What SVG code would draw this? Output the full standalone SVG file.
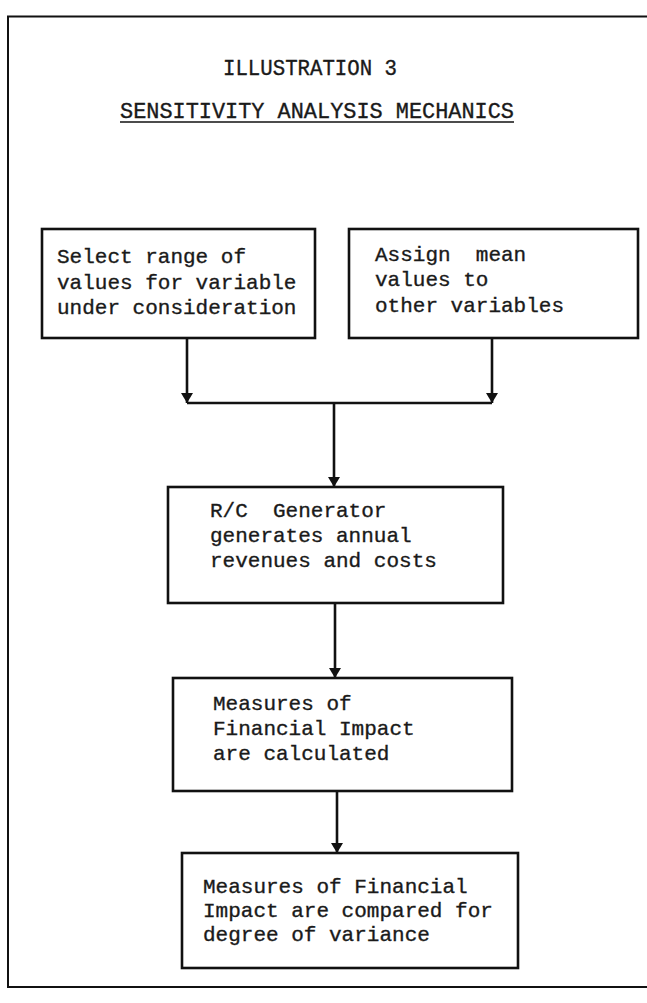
<svg xmlns="http://www.w3.org/2000/svg" width="647" height="1003" viewBox="0 0 647 1003">
<style>
  .frame{fill:none;stroke:#111;stroke-width:2}
  .box{fill:#fff;stroke:#111;stroke-width:2.6}
  .t{font-family:"Liberation Mono","Courier New",monospace;font-size:21px;fill:#1a1a1a;stroke:#1a1a1a;stroke-width:0.35;white-space:pre}
  .title{font-family:"Liberation Mono","Courier New",monospace;font-size:21.5px;fill:#1a1a1a;stroke:#1a1a1a;stroke-width:0.35}
  .con{fill:none;stroke:#111;stroke-width:2.6}
</style>
<defs>
  <marker id="ah" viewBox="0 0 10 12" refX="10" refY="6" markerWidth="10" markerHeight="12" markerUnits="userSpaceOnUse" orient="auto">
    <path d="M0,0 L10,6 L0,12 Z" fill="#111"/>
  </marker>
</defs>
<rect width="647" height="1003" fill="#fff"/>
<g id="frame">
  <path class="frame" d="M647,16.5 L8,16.5 L8,987 L647,987"/>
</g>
<g id="title">
  <text class="title" x="223" y="75" textLength="174" lengthAdjust="spacingAndGlyphs">ILLUSTRATION 3</text>
  <text class="title" x="120" y="118" textLength="394" lengthAdjust="spacingAndGlyphs">SENSITIVITY ANALYSIS MECHANICS</text>
  <line x1="120" y1="122" x2="514" y2="122" stroke="#111" stroke-width="1.6"/>
</g>
<g id="connectors">
  <path class="con" d="M187,338 L187,403" marker-end="url(#ah)"/>
  <path class="con" d="M492,338 L492,403" marker-end="url(#ah)"/>
  <path class="con" d="M187,403 L492,403"/>
  <path class="con" d="M334,403 L334,487" marker-end="url(#ah)"/>
  <path class="con" d="M335,603 L335,678" marker-end="url(#ah)"/>
  <path class="con" d="M337,791 L337,853" marker-end="url(#ah)"/>
</g>
<g id="node-select">
  <rect class="box" x="42" y="229" width="273" height="109"/>
  <text class="t" x="57" y="263">Select range of</text>
  <text class="t" x="57" y="289">values for variable</text>
  <text class="t" x="57" y="314">under consideration</text>
</g>
<g id="node-assign">
  <rect class="box" x="349" y="229" width="289" height="109"/>
  <text class="t" x="375" y="261">Assign  mean</text>
  <text class="t" x="375" y="286">values to</text>
  <text class="t" x="375" y="312">other variables</text>
</g>
<g id="node-rc">
  <rect class="box" x="168" y="487" width="335" height="116"/>
  <text class="t" x="210" y="517">R/C  Generator</text>
  <text class="t" x="210" y="542">generates annual</text>
  <text class="t" x="210" y="567">revenues and costs</text>
</g>
<g id="node-measures">
  <rect class="box" x="173" y="678" width="339" height="113"/>
  <text class="t" x="213" y="710">Measures of</text>
  <text class="t" x="213" y="735">Financial Impact</text>
  <text class="t" x="213" y="760">are calculated</text>
</g>
<g id="node-compare">
  <rect class="box" x="182" y="853" width="336" height="115"/>
  <text class="t" x="203" y="893">Measures of Financial</text>
  <text class="t" x="203" y="917">Impact are compared for</text>
  <text class="t" x="203" y="941">degree of variance</text>
</g>
</svg>
